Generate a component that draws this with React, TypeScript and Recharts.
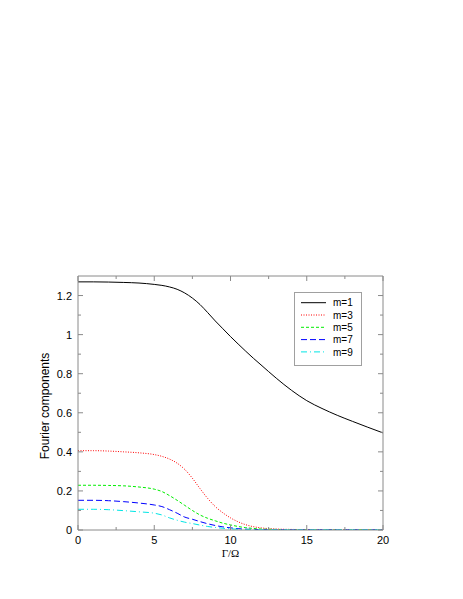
import React from 'react';
import { LineChart, Line, XAxis, YAxis, Legend } from 'recharts';

const gammas = [0, 1, 2, 3, 4, 5, 5.5, 6, 6.5, 7, 7.5, 8, 8.5, 9, 9.5, 10, 10.5, 11, 11.5, 12, 13, 14, 15, 16, 17, 18, 19, 20];
const m1 = [1.27, 1.27, 1.269, 1.267, 1.264, 1.257, 1.252, 1.244, 1.232, 1.213, 1.187, 1.154, 1.113, 1.07, 1.03, 0.99, 0.952, 0.915, 0.879, 0.845, 0.777, 0.715, 0.662, 0.622, 0.587, 0.556, 0.526, 0.497];
const m3 = [0.406, 0.406, 0.404, 0.4, 0.395, 0.386, 0.377, 0.363, 0.342, 0.31, 0.265, 0.212, 0.162, 0.12, 0.088, 0.062, 0.042, 0.027, 0.017, 0.011, 0.005, 0.003, 0.002, 0.001, 0.001, 0.001, 0.001, 0.001];
const m5 = [0.229, 0.229, 0.228, 0.226, 0.22, 0.209, 0.197, 0.176, 0.152, 0.126, 0.1, 0.077, 0.06, 0.047, 0.035, 0.026, 0.018, 0.012, 0.008, 0.005, 0.003, 0.001, 0.001, 0.001, 0.001, 0.001, 0.001, 0.001];
const m7 = [0.152, 0.152, 0.15, 0.145, 0.138, 0.128, 0.12, 0.104, 0.086, 0.066, 0.055, 0.043, 0.032, 0.023, 0.016, 0.011, 0.007, 0.004, 0.003, 0.002, 0.001, 0.001, 0.001, 0.001, 0.001, 0.001, 0.001, 0.001];
const m9 = [0.106, 0.106, 0.104, 0.099, 0.093, 0.086, 0.077, 0.062, 0.05, 0.04, 0.033, 0.025, 0.018, 0.013, 0.009, 0.006, 0.004, 0.003, 0.002, 0.002, 0.001, 0.001, 0.001, 0.001, 0.001, 0.001, 0.001, 0.001];

const seriesNames = ['m=1', 'm=3', 'm=5', 'm=7', 'm=9'];
const seriesKeys = ['m1', 'm3', 'm5', 'm7', 'm9'];

const xTicks = [0, 2.5, 5, 7.5, 10, 12.5, 15, 17.5, 20];
const xMajor = [0, 5, 10, 15, 20];
const yTicks = [0, 0.1, 0.2, 0.3, 0.4, 0.5, 0.6, 0.7, 0.8, 0.9, 1, 1.1, 1.2];
const yMajor = [0, 0.2, 0.4, 0.6, 0.8, 1, 1.2];
const yMajorLabels = ['0', '0.2', '0.4', '0.6', '0.8', '1', '1.2'];

const data = gammas.map((g, i) => ({ g, m1: m1[i], m3: m3[i], m5: m5[i], m7: m7[i], m9: m9[i] }));

const styles = [
  { color: '#000000', dash: undefined as string | undefined },
  { color: '#ff0000', dash: '1 1.5' },
  { color: '#00ee00', dash: '3 2' },
  { color: '#0000ff', dash: '6 3' },
  { color: '#00e5e5', dash: '6 3 1 3' },
];

const AXIS = '#8a8a8a';
const SANS = '"Liberation Sans", Arial, Helvetica, sans-serif';
const majorIndex = (v: number, list: number[]) => list.findIndex((m) => Math.abs(m - v) < 1e-9);

const BottomTick = (p: any) => {
  const { x, y, payload } = p;
  const mi = majorIndex(payload.value, xMajor);
  const len = mi >= 0 ? 5 : 3;
  return (
    <g>
      <line x1={x} y1={y} x2={x} y2={y - len} stroke={AXIS} strokeWidth={1} />
      {mi >= 0 && (
        <text x={x} y={y + 14} textAnchor="middle" fontSize={11} fontFamily={SANS} fill="#000">
          {String(xMajor[mi])}
        </text>
      )}
    </g>
  );
};

const TopTick = (p: any) => {
  const { x, y, payload } = p;
  const len = majorIndex(payload.value, xMajor) >= 0 ? 5 : 3;
  return <line x1={x} y1={y} x2={x} y2={y + len} stroke={AXIS} strokeWidth={1} />;
};

const LeftTick = (p: any) => {
  const { x, y, payload } = p;
  const mi = majorIndex(payload.value, yMajor);
  const len = mi >= 0 ? 5 : 3;
  return (
    <g>
      <line x1={x} y1={y} x2={x + len} y2={y} stroke={AXIS} strokeWidth={1} />
      {mi >= 0 && (
        <text x={x - 6} y={y + 4} textAnchor="end" fontSize={11} fontFamily={SANS} fill="#000">
          {yMajorLabels[mi]}
        </text>
      )}
    </g>
  );
};

const RightTick = (p: any) => {
  const { x, y, payload } = p;
  const len = majorIndex(payload.value, yMajor) >= 0 ? 5 : 3;
  return <line x1={x} y1={y} x2={x - len} y2={y} stroke={AXIS} strokeWidth={1} />;
};

const LegendBox = () => (
  <svg width={70} height={76} style={{ display: 'block' }}>
    <rect x={0.5} y={0.5} width={67} height={73} fill="#fff" stroke="#a0a0a0" />
    {seriesNames.map((name, i) => {
      const yy = 10.7 + i * 12.3;
      return (
        <g key={name}>
          <line x1={7} x2={32} y1={yy} y2={yy} stroke={styles[i].color} strokeWidth={1} strokeDasharray={styles[i].dash} />
          <text x={39} y={yy + 3.6} fontSize={10} fontFamily={SANS} fill="#000">
            {name}
          </text>
        </g>
      );
    })}
  </svg>
);

const YLabel = (p: any) => {
  const vb = p.viewBox || { x: 0, y: 276, width: 78, height: 254 };
  const cx = vb.x + 45;
  const cy = vb.y + vb.height / 2 + 3;
  return (
    <text
      x={cx}
      y={cy}
      transform={`rotate(-90, ${cx}, ${cy})`}
      textAnchor="middle"
      dominantBaseline="central"
      fontSize={12}
      fontFamily={SANS}
      fill="#000"
    >
      Fourier components
    </text>
  );
};

const XLabel = (p: any) => {
  const vb = p.viewBox || { x: 78, y: 530, width: 305, height: 69 };
  return (
    <text x={vb.x + vb.width / 2} y={vb.y + 27} textAnchor="middle" fontSize={11} fontFamily={'"Liberation Serif", "Times New Roman", serif'} fill="#000">
      Γ/Ω
    </text>
  );
};

export default function App() {
  return (
    <div style={{ position: 'absolute', left: 0, top: 0, width: 463, height: 599, background: '#fff' }}>
      <LineChart width={463} height={599} data={data} margin={{ top: 275, right: 79, bottom: 0, left: 0 }}>
        <XAxis
          xAxisId="b"
          dataKey="g"
          type="number"
          domain={[0, 20]}
          ticks={xTicks}
          interval={0}
          height={69}
          tickSize={0}
          tickMargin={0}
          tickLine={false}
          axisLine={{ stroke: AXIS }}
          tick={BottomTick}
          label={{ content: XLabel }}
          allowDataOverflow
        />
        <XAxis
          xAxisId="t"
          orientation="top"
          dataKey="g"
          type="number"
          domain={[0, 20]}
          ticks={xTicks}
          interval={0}
          height={1}
          tickSize={0}
          tickMargin={0}
          tickLine={false}
          axisLine={{ stroke: AXIS }}
          tick={TopTick}
          allowDataOverflow
        />
        <YAxis
          yAxisId="l"
          type="number"
          domain={[0, 1.3]}
          ticks={yTicks}
          interval={0}
          width={78}
          tickSize={0}
          tickMargin={0}
          tickLine={false}
          axisLine={{ stroke: AXIS }}
          tick={LeftTick}
          label={{ content: YLabel }}
          allowDataOverflow
        />
        <YAxis
          yAxisId="r"
          orientation="right"
          type="number"
          domain={[0, 1.3]}
          ticks={yTicks}
          interval={0}
          width={1}
          tickSize={0}
          tickMargin={0}
          tickLine={false}
          axisLine={{ stroke: AXIS }}
          tick={RightTick}
          allowDataOverflow
        />
        <Line
          xAxisId="t"
          yAxisId="r"
          dataKey="m1"
          stroke="none"
          dot={false}
          activeDot={false}
          legendType="none"
          isAnimationActive={false}
        />
        {seriesKeys.map((k, i) => (
          <Line
            key={k}
            xAxisId="b"
            yAxisId="l"
            type="monotone"
            dataKey={k}
            name={seriesNames[i]}
            stroke={styles[i].color}
            strokeWidth={1}
            strokeDasharray={styles[i].dash}
            dot={false}
            activeDot={false}
            isAnimationActive={false}
          />
        ))}
        <Legend
          layout="vertical"
          align="center"
          verticalAlign="middle"
          content={LegendBox}
          wrapperStyle={{ position: 'absolute', left: 294, top: 292, width: 70, height: 76 }}
        />
      </LineChart>
    </div>
  );
}
